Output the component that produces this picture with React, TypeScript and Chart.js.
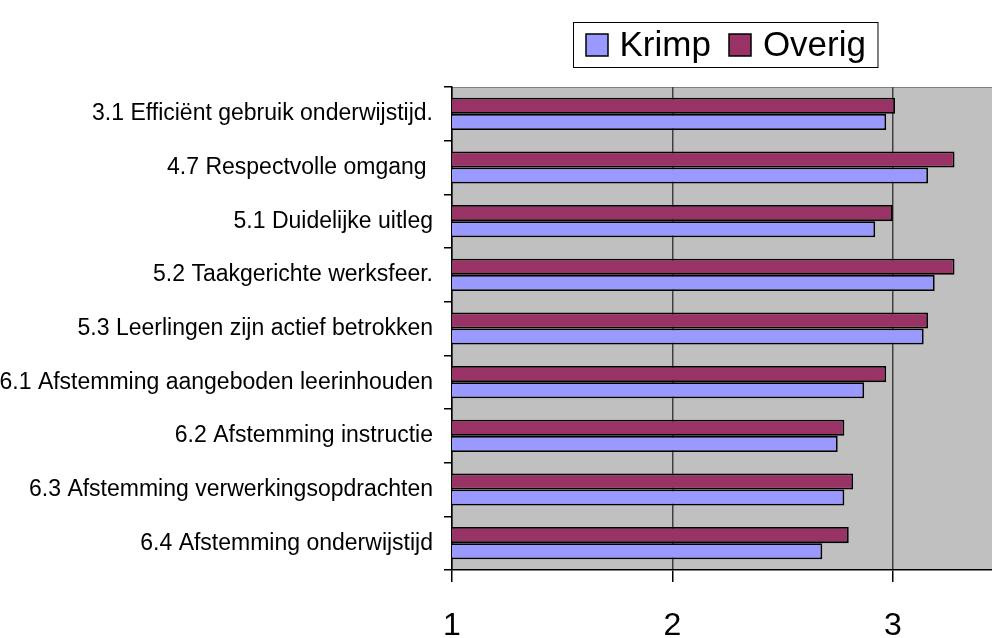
import React, { useEffect, useRef } from 'react';
import { Chart, registerables } from 'chart.js';

Chart.register(...registerables);

const categories = [
  '3.1 Efficiënt gebruik onderwijstijd.',
  '4.7 Respectvolle omgang ',
  '5.1 Duidelijke uitleg',
  '5.2 Taakgerichte werksfeer.',
  '5.3 Leerlingen zijn actief betrokken',
  '6.1 Afstemming aangeboden leerinhouden',
  '6.2 Afstemming instructie',
  '6.3 Afstemming verwerkingsopdrachten',
  '6.4 Afstemming onderwijstijd',
];
const krimp = [2.97, 3.16, 2.92, 3.19, 3.14, 2.87, 2.75, 2.78, 2.68];
const overig = [3.01, 3.28, 3.0, 3.28, 3.16, 2.97, 2.78, 2.82, 2.8];
const xMin = 1;
const xMax = 3.45;
const seriesNames = ['Krimp', 'Overig'];
const seriesColors = ['#9999FF', '#993366'];

const FONT = "'Liberation Sans', Arial, sans-serif";

const plotBgPlugin = {
  id: 'plotBg',
  beforeDraw(chart: any) {
    const { ctx, chartArea } = chart;
    ctx.save();
    ctx.fillStyle = '#C0C0C0';
    ctx.fillRect(chartArea.left, chartArea.top, chartArea.right - chartArea.left, chartArea.bottom - chartArea.top);
    ctx.strokeStyle = '#808080';
    ctx.lineWidth = 1;
    ctx.beginPath();
    ctx.moveTo(chartArea.left, chartArea.top + 0.5);
    ctx.lineTo(chartArea.right, chartArea.top + 0.5);
    ctx.stroke();
    ctx.restore();
  },
};

const boxLegendPlugin = {
  id: 'boxLegend',
  afterDraw(chart: any) {
    const { ctx, chartArea } = chart;
    ctx.save();
    ctx.font = `35px ${FONT}`;
    const pad = 12;
    const sw = 22;
    const gap = 12;
    const itemGap = 18;
    const widths = seriesNames.map((n) => ctx.measureText(n).width);
    let total = pad * 2;
    widths.forEach((w, i) => {
      total += sw + gap + w + (i < widths.length - 1 ? itemGap : 0);
    });
    const h = 45;
    const top = 22;
    const cx = (chartArea.left + chartArea.right) / 2 + 3;
    const left = Math.round(cx - total / 2) + 0.5;
    ctx.fillStyle = '#FFFFFF';
    ctx.fillRect(left, top + 0.5, total, h);
    ctx.strokeStyle = '#000000';
    ctx.lineWidth = 1;
    ctx.strokeRect(left, top + 0.5, total, h);
    let x = left + pad;
    const cy = top + h / 2 + 0.5;
    seriesNames.forEach((n, i) => {
      ctx.fillStyle = seriesColors[i];
      ctx.fillRect(Math.round(x), Math.round(cy - sw / 2), sw, sw);
      ctx.lineWidth = 1.5;
      ctx.strokeStyle = '#000000';
      ctx.strokeRect(Math.round(x), Math.round(cy - sw / 2), sw, sw);
      x += sw + gap;
      ctx.fillStyle = '#000000';
      ctx.textBaseline = 'middle';
      ctx.textAlign = 'left';
      ctx.fillText(n, x, cy + 1);
      x += widths[i] + itemGap;
    });
    ctx.restore();
  },
};

export default function App() {
  const ref = useRef<HTMLCanvasElement | null>(null);

  useEffect(() => {
    if (!ref.current) return;
    const chart = new Chart(ref.current, {
      type: 'bar',
      data: {
        labels: categories,
        datasets: [
          {
            label: seriesNames[1],
            data: overig,
            backgroundColor: seriesColors[1],
            borderColor: '#000000',
            borderWidth: 1.8,
            borderSkipped: false,
          },
          {
            label: seriesNames[0],
            data: krimp,
            backgroundColor: seriesColors[0],
            borderColor: '#000000',
            borderWidth: 1.8,
            borderSkipped: false,
          },
        ],
      },
      options: {
        indexAxis: 'y',
        animation: false,
        responsive: true,
        maintainAspectRatio: false,
        layout: { padding: { top: 87, right: 0, left: 0, bottom: 0 } },
        datasets: { bar: { categoryPercentage: 0.6, barPercentage: 1 } },
        plugins: {
          legend: { display: false },
          tooltip: { enabled: false },
        },
        scales: {
          x: {
            type: 'linear',
            min: xMin,
            max: xMax,
            afterFit: (s: any) => {
              s.height = 68;
            },
            ticks: {
              stepSize: 1,
              includeBounds: false,
              padding: 28,
              color: '#000000',
              font: { family: FONT, size: 32, lineHeight: 1 },
            },
            grid: {
              color: '#404040',
              lineWidth: 1.5,
              drawTicks: true,
              tickLength: 12,
              tickColor: '#000000',
            },
            border: { display: true, color: '#000000', width: 1.5 },
          },
          y: {
            type: 'category',
            afterFit: (s: any) => {
              s.width = 452;
            },
            ticks: {
              padding: 11,
              color: '#000000',
              font: { family: FONT, size: 23 },
              autoSkip: false,
            },
            grid: {
              offset: true,
              drawOnChartArea: false,
              drawTicks: true,
              tickLength: 8,
              tickColor: '#000000',
              lineWidth: 1.5,
            },
            border: { display: true, color: '#000000', width: 1.5 },
          },
        },
      },
      plugins: [plotBgPlugin, boxLegendPlugin],
    });
    return () => chart.destroy();
  }, []);

  return (
    <div style={{ position: 'fixed', left: 0, top: 0, width: 992, height: 638, background: '#FFFFFF' }}>
      <canvas ref={ref} />
    </div>
  );
}
